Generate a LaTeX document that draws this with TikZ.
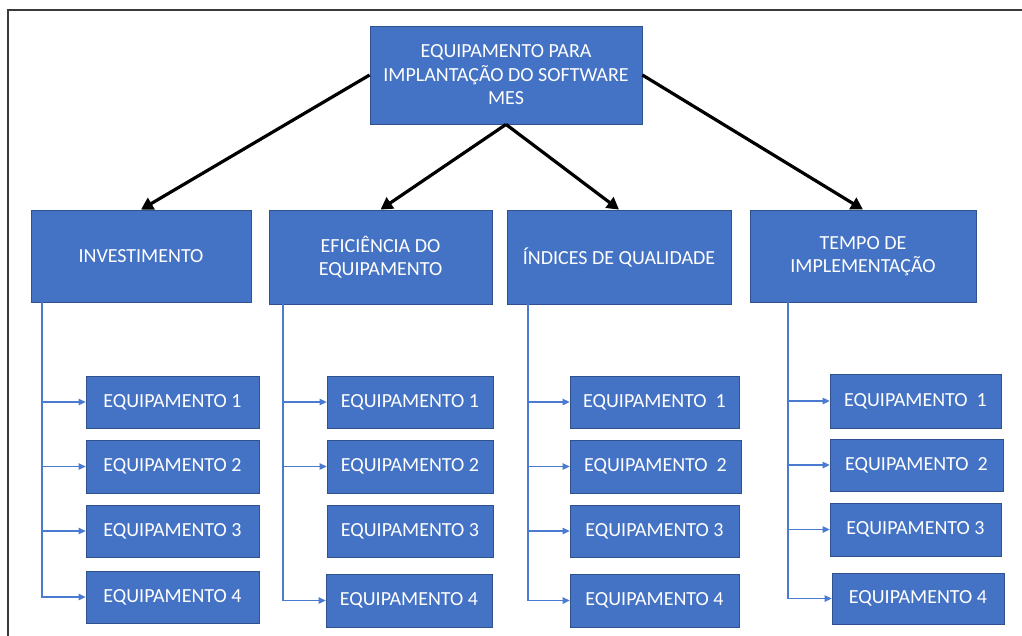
\documentclass[tikz,border=0pt]{standalone}
\usepackage{fontspec}
\setmainfont{Carlito}
\usetikzlibrary{arrows.meta}
\definecolor{boxblue}{HTML}{4472C4}
\definecolor{boxedge}{HTML}{2F528F}
\definecolor{linkblue}{HTML}{4A7BD0}
\definecolor{framegray}{HTML}{3A3A3A}
\begin{document}
\begin{tikzpicture}[x=1pt,y=-1pt,
  box/.style={draw=boxedge, line width=0.8pt, fill=boxblue, text=white, inner sep=0pt, align=center, font=\fontsize{20}{23.5}\selectfont},
  mainarrow/.style={draw=black, line width=3.2pt, -{Triangle[length=12pt,width=13pt]}},
  link/.style={draw=linkblue, line width=1.3pt, -{Triangle[length=7pt,width=6.5pt]}}]
\useasboundingbox (0,0) rectangle (1022,636);
\fill[white] (0,0) rectangle (1022,636);
\draw[framegray, line width=1.5pt] (8,660) -- (8,10) -- (1040,10);

% top
\node[box, minimum width=272pt, minimum height=98pt] (top) at (506,75) {EQUIPAMENTO PARA\\IMPLANTAÇÃO DO SOFTWARE\\MES};

% level 2
\node[box, minimum width=220pt, minimum height=92pt] (inv) at (141,256) {INVESTIMENTO};
\node[box, minimum width=223pt, minimum height=94pt] (efi) at (380.5,257) {EFICIÊNCIA DO\\EQUIPAMENTO};
\node[box, minimum width=224pt, minimum height=94pt] (ind) at (619,257) {ÍNDICES DE QUALIDADE};
\node[box, minimum width=226pt, minimum height=92pt] (tem) at (863,256) {TEMPO DE\\IMPLEMENTAÇÃO};

% column 1
\node[box, minimum width=173pt, minimum height=52pt] (a1) at (172.5,402) {EQUIPAMENTO 1};
\node[box, minimum width=173pt, minimum height=53pt] (a2) at (172.5,466.5) {EQUIPAMENTO 2};
\node[box, minimum width=173pt, minimum height=52pt] (a3) at (172.5,531) {EQUIPAMENTO 3};
\node[box, minimum width=173pt, minimum height=52pt] (a4) at (172.5,597) {EQUIPAMENTO 4};

% column 2
\node[box, minimum width=166pt, minimum height=52pt] (b1) at (410,402) {EQUIPAMENTO 1};
\node[box, minimum width=166pt, minimum height=53pt] (b2) at (410,466.5) {EQUIPAMENTO 2};
\node[box, minimum width=166pt, minimum height=52pt] (b3) at (410,531) {EQUIPAMENTO 3};
\node[box, minimum width=166pt, minimum height=53pt] (b4) at (409,600.5) {EQUIPAMENTO 4};

% column 3
\node[box, minimum width=169pt, minimum height=52pt] (c1) at (654.5,402) {EQUIPAMENTO\ \ 1};
\node[box, minimum width=171pt, minimum height=53pt] (c2) at (655.5,466.5) {EQUIPAMENTO\ \ 2};
\node[box, minimum width=169pt, minimum height=52pt] (c3) at (654.5,531) {EQUIPAMENTO 3};
\node[box, minimum width=169pt, minimum height=53pt] (c4) at (654.5,600.5) {EQUIPAMENTO 4};

% column 4
\node[box, minimum width=171pt, minimum height=54pt] (d1) at (915.5,401) {EQUIPAMENTO\ \ 1};
\node[box, minimum width=173pt, minimum height=52pt] (d2) at (916.5,465) {EQUIPAMENTO\ \ 2};
\node[box, minimum width=171pt, minimum height=53pt] (d3) at (915.5,529.5) {EQUIPAMENTO 3};
\node[box, minimum width=172pt, minimum height=51pt] (d4) at (918,598.5) {EQUIPAMENTO 4};

% main arrows
\draw[mainarrow] (top.west) -- (inv.north);
\draw[mainarrow] (top.south) -- (efi.north);
\draw[mainarrow] (top.south) -- (ind.north);
\draw[mainarrow] (top.east) -- (tem.north);

% branch origins
\coordinate (v1) at (42,302);
\coordinate (v2) at (283,304);
\coordinate (v3) at (528,304);
\coordinate (v4) at (788,302);

\draw[link] (v1) |- (a1.west);
\draw[link] (v1) |- (a2.west);
\draw[link] (v1) |- (a3.west);
\draw[link] (v1) |- (a4.west);

\draw[link] (v2) |- (b1.west);
\draw[link] (v2) |- (b2.west);
\draw[link] (v2) |- (b4.west);

\draw[link] (v3) |- (c1.west);
\draw[link] (v3) |- (c2.west);
\draw[link] (v3) |- (c3.west);
\draw[link] (v3) |- (c4.west);

\draw[link] (v4) |- (d1.west);
\draw[link] (v4) |- (d2.west);
\draw[link] (v4) |- (d3.west);
\draw[link] (v4) |- (d4.west);
\end{tikzpicture}
\end{document}
